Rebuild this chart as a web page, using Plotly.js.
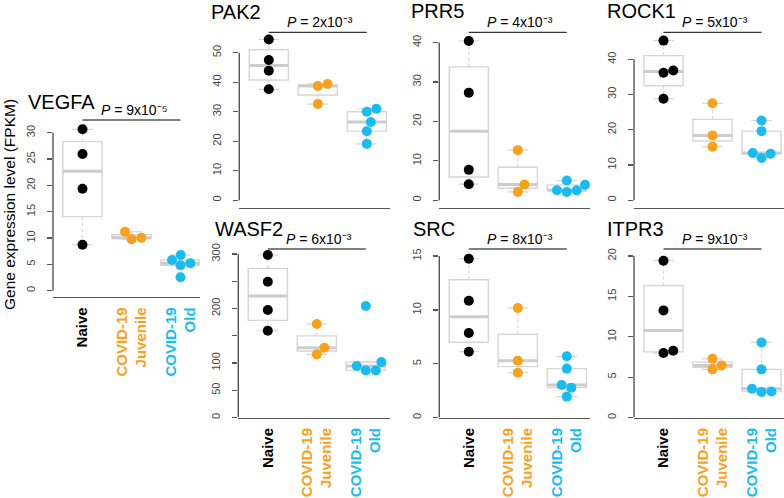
<!DOCTYPE html>
<html><head><meta charset="utf-8">
<script src="https://cdn.plot.ly/plotly-3.0.1.min.js"></script>
<style>html,body{margin:0;padding:0;background:#fff}#chart{width:784px;height:498px}</style>
</head><body><div id="chart"></div>
<script>
// ---------------- DATA ----------------
const groups = ['Naive', 'COVID-19 Juvenile', 'COVID-19 Old'];
const groupTickText = ['Naive', 'COVID-19<br>Juvenile', 'COVID-19<br>Old'];
const genes = ['VEGFA', 'PAK2', 'PRR5', 'ROCK1', 'WASF2', 'SRC', 'ITPR3'];
const pValues = ['9x10\u207B\u2075', '2x10\u207B\u00B3', '4x10\u207B\u00B3', '5x10\u207B\u00B3',
                 '6x10\u207B\u00B3', '8x10\u207B\u00B3', '9x10\u207B\u00B3'];

const vegfaNaive = [30.64, 25.95, 19.37, 8.74];
const vegfaJuvenile = [11.2, 9.76, 10.06];
const vegfaOld = [5.83, 6.78, 4.82, 5.2, 2.54];

const pak2Naive = [54.5, 47.5, 43.9, 37.6];
const pak2Juvenile = [38.7, 39.4, 32.6];
const pak2Old = [30.0, 31.0, 26.5, 23.4, 19.1];

const prr5Naive = [40.4, 27.3, 7.7, 4.06];
const prr5Juvenile = [12.7, 4.0, 2.1];
const prr5Old = [3.9, 5.0, 2.54, 2.08, 2.5];

const rock1Naive = [45.3, 36.2, 36.8, 28.8];
const rock1Juvenile = [27.5, 18.4, 15.2];
const rock1Old = [22.6, 19.6, 13.4, 13.2, 12.0];

const wasf2Naive = [298.2, 249.2, 197.2, 159.3];
const wasf2Juvenile = [171.6, 128.1, 116.0];
const wasf2Old = [204.6, 94.5, 86.6, 86.6, 101.8];

const srcNaive = [14.75, 10.85, 7.86, 6.12];
const srcJuvenile = [10.18, 5.29, 4.17];
const srcOld = [5.69, 4.55, 3.03, 2.78, 1.95];

const itpr3Naive = [19.42, 13.27, 7.99, 8.27];
const itpr3Juvenile = [7.28, 6.46, 5.97];
const itpr3Old = [9.31, 5.97, 3.57, 3.18, 3.22];

const vegfaTicks = [0, 5, 10, 15, 20, 25, 30];
const pak2Ticks = [0, 10, 20, 30, 40, 50];
const prr5Ticks = [0, 10, 20, 30, 40];
const rock1Ticks = [0, 10, 20, 30, 40];
const wasf2Ticks = [0, 50, 100, 200, 300];          // labelled ticks
const wasf2MinorTicks = [150, 250];                 // ticks whose labels are dropped
const srcTicks = [0, 5, 10, 15];
const itpr3Ticks = [0, 5, 10, 15, 20];

const geneData = [
  [vegfaNaive, vegfaJuvenile, vegfaOld],
  [pak2Naive, pak2Juvenile, pak2Old],
  [prr5Naive, prr5Juvenile, prr5Old],
  [rock1Naive, rock1Juvenile, rock1Old],
  [wasf2Naive, wasf2Juvenile, wasf2Old],
  [srcNaive, srcJuvenile, srcOld],
  [itpr3Naive, itpr3Juvenile, itpr3Old]
];
const geneTicks = [vegfaTicks, pak2Ticks, prr5Ticks, rock1Ticks, wasf2Ticks, srcTicks, itpr3Ticks];
const geneMinorTicks = [null, null, null, null, wasf2MinorTicks, null, null];

// ---------------- STYLE / LAYOUT ----------------
const W = 784, H = 498;
const groupColors = ['#000000', '#F9A11B', '#19BCEF'];
const FONT = 'Liberation Sans, Arial, Helvetica, sans-serif';
const SPACING_PX = 49, FIRST_PX = 29.5, DOT = 10;
const BOX_W = 0.8, CAP_W = 0.42;
const BOX_LINE = '#d6d6d6', MEDIAN_LINE = '#cccccc';
// pixel geometry of each panel
const panelGeom = [
  {ax: 53,    xr: 200, zero: 290.7, ppu: 5.267,  bottom: 297,   top: 122, pline: 120,  tx: 26, ty: 101.7, showX: true},
  {ax: 239.3, xr: 390, zero: 200.2, ppu: 2.95,   bottom: 208,   top: 36,  pline: 32.3, tx: 209, ty: 12.5, showX: false},
  {ax: 439.3, xr: 590, zero: 200.2, ppu: 3.94,   bottom: 208,   top: 36,  pline: 32.3, tx: 409, ty: 11, showX: false},
  {ax: 634,   xr: 784, zero: 200.2, ppu: 3.523,  bottom: 208,   top: 36,  pline: 32.3, tx: 605, ty: 11, showX: false},
  {ax: 238.3, xr: 390, zero: 417.6, ppu: 0.5453, bottom: 417.6, top: 252, pline: 249,  tx: 212.5, ty: 229.3, showX: true},
  {ax: 439.3, xr: 590, zero: 417.6, ppu: 10.77,  bottom: 417.6, top: 252, pline: 249,  tx: 411, ty: 229.3, showX: true},
  {ax: 634,   xr: 784, zero: 417.6, ppu: 8.08,   bottom: 417.6, top: 252, pline: 249,  tx: 605, ty: 228.7, showX: true}
];

function sortedCopy(a) { return a.slice().sort((p, q) => p - q); }
function median(a) {
  const s = sortedCopy(a), n = s.length;
  return n % 2 ? s[(n - 1) / 2] : (s[n / 2 - 1] + s[n / 2]) / 2;
}
// Tukey five-number summary (R boxplot): hinges, whisker ends within 1.5 IQR
function tukey(a) {
  const s = sortedCopy(a), n = s.length;
  const q1 = median(s.slice(0, Math.ceil(n / 2)));
  const q3 = median(s.slice(Math.floor(n / 2)));
  const iqr = q3 - q1;
  const inside = s.filter(v => v >= q1 - 1.5 * iqr && v <= q3 + 1.5 * iqr);
  return {q1: q1, med: median(s), q3: q3, lo: Math.min(q1, inside[0]), hi: Math.max(q3, inside[inside.length - 1])};
}
// beeswarm ("swarm") horizontal offsets in pixels
function swarmOffsets(vals, ppu, d) {
  const idx = vals.map((v, i) => i).sort((a, b) => vals[a] - vals[b]);
  const placed = [];
  const out = new Array(vals.length).fill(0);
  idx.forEach(i => {
    const y = vals[i] * ppu;
    const intervals = [];
    placed.forEach(p => {
      const dy = Math.abs(p.y - y);
      if (dy < d) {
        const dx = Math.sqrt(d * d - dy * dy);
        intervals.push([p.x - dx, p.x + dx]);
      }
    });
    const cands = [0];
    intervals.forEach(iv => { cands.push(iv[0], iv[1]); });
    const ok = cands.filter(c => intervals.every(iv => !(c > iv[0] + 1e-9 && c < iv[1] - 1e-9)));
    ok.sort((a, b) => (Math.abs(a) - Math.abs(b)) || (b - a));
    const x = ok[0];
    placed.push({x: x, y: y});
    out[i] = x;
  });
  return out;
}

const traces = [];
const layout = {
  width: W, height: H,
  margin: {l: 0, r: 0, t: 0, b: 0},
  paper_bgcolor: '#ffffff', plot_bgcolor: 'rgba(0,0,0,0)',
  showlegend: false,
  font: {family: FONT, color: '#000'},
  shapes: [], annotations: []
};

const tickTextHtml = groupTickText.map((t, k) =>
  t.split('<br>').map(line => '<span style="color:' + groupColors[k] + '">' + line + '</span>').join('<br>'));

genes.forEach((gene, gi) => {
  const g = panelGeom[gi];
  const sfx = gi === 0 ? '' : String(gi + 1);
  const xa = 'x' + sfx, ya = 'y' + sfx;
  const xmin = 1 - FIRST_PX / SPACING_PX;
  const xmax = 1 + (g.xr - g.ax - FIRST_PX) / SPACING_PX;
  const ymin = -(g.bottom - g.zero) / g.ppu;
  const ymax = (g.zero - g.top) / g.ppu;
  const ticks = geneTicks[gi];
  const minor = geneMinorTicks[gi];
  const allTicks = minor ? ticks.concat(minor) : ticks;
  const tickTop = Math.max.apply(null, allTicks), tickBottom = Math.min.apply(null, allTicks);

  layout['xaxis' + sfx] = {
    domain: [g.ax / W, g.xr / W], range: [xmin, xmax], anchor: ya,
    showline: true, linecolor: '#555555', linewidth: 1.4,
    showgrid: false, zeroline: false, ticks: '',
    showticklabels: g.showX,
    tickmode: 'array', tickvals: [1, 2, 3], ticktext: tickTextHtml,
    tickangle: -90, tickfont: {family: FONT, size: 15, color: '#000', weight: 'bold'}, ticklabelstandoff: 3
  };
  const yax = {
    domain: [1 - g.bottom / H, 1 - g.top / H], range: [ymin, ymax], anchor: xa,
    showline: false, showgrid: false, zeroline: false,
    ticks: 'outside', ticklen: 5, tickwidth: 1.3, tickcolor: '#555555',
    tickmode: 'array', tickvals: ticks, ticktext: ticks.map(String),
    tickangle: -90, tickfont: {family: FONT, size: 11, color: '#444444'}, ticklabelstandoff: 8
  };
  if (minor) {
    yax.minor = {tickmode: 'array', tickvals: minor, ticks: 'outside', ticklen: 5, tickwidth: 1.3,
                 tickcolor: '#555555', showgrid: false};
  }
  layout['yaxis' + sfx] = yax;
  // y axis line from first to last tick (R style)
  layout.shapes.push({type: 'line', xref: xa + ' domain', yref: ya, x0: 0, x1: 0,
    y0: tickBottom, y1: tickTop, line: {color: '#555555', width: 1.4}});
  // significance bar from first to last group
  layout.shapes.push({type: 'line', xref: xa, yref: 'paper', x0: 1, x1: 3,
    y0: 1 - g.pline / H, y1: 1 - g.pline / H, line: {color: '#000', width: 1}});
  layout.annotations.push({xref: xa, yref: 'paper', x: 2, y: 1 - g.pline / H, yanchor: 'bottom',
    xanchor: 'center', xshift: 2, showarrow: false,
    text: '<i>P</i> = ' + pValues[gi], font: {family: FONT, size: 14, color: '#000'}});
  // gene title
  layout.annotations.push({xref: 'paper', yref: 'paper', x: g.tx / W, y: 1 - g.ty / H,
    xanchor: 'left', yanchor: 'middle', showarrow: false, text: gene,
    font: {family: FONT, size: 20, color: '#000'}});

  geneData[gi].forEach((vals, k) => {
    const pos = k + 1;
    const st = tukey(vals);
    // dashed whiskers (R lty = 2)
    traces.push({
      type: 'scatter', mode: 'lines', xaxis: xa, yaxis: ya, hoverinfo: 'skip',
      x: [pos, pos, null, pos, pos], y: [st.q3, st.hi, null, st.q1, st.lo],
      line: {color: BOX_LINE, width: 1.2, dash: '3px,3px'}, name: groups[k] + ' whisker'
    });
    // whisker caps (staples)
    traces.push({
      type: 'scatter', mode: 'lines', xaxis: xa, yaxis: ya, hoverinfo: 'skip',
      x: [pos - CAP_W / 2, pos + CAP_W / 2, null, pos - CAP_W / 2, pos + CAP_W / 2],
      y: [st.hi, st.hi, null, st.lo, st.lo],
      line: {color: BOX_LINE, width: 1.2}, name: groups[k] + ' cap'
    });
    // box (hinges + median) from the library's box trace
    traces.push({
      type: 'box', xaxis: xa, yaxis: ya, x: [pos],
      q1: [st.q1], median: [st.med], q3: [st.q3], lowerfence: [st.q1], upperfence: [st.q3],
      width: BOX_W, whiskerwidth: 0, boxpoints: false,
      line: {color: BOX_LINE, width: 1.4}, fillcolor: 'rgba(255,255,255,0)',
      hoverinfo: 'skip', name: groups[k]
    });
    // thick median bar
    traces.push({
      type: 'scatter', mode: 'lines', xaxis: xa, yaxis: ya,
      x: [pos - BOX_W / 2, pos + BOX_W / 2], y: [st.med, st.med], line: {color: MEDIAN_LINE, width: 3},
      hoverinfo: 'skip', name: groups[k] + ' median'
    });
    const offs = swarmOffsets(vals, g.ppu, DOT);
    traces.push({
      type: 'scatter', mode: 'markers', xaxis: xa, yaxis: ya, cliponaxis: false,
      x: offs.map(o => pos + o / SPACING_PX), y: vals,
      marker: {color: groupColors[k], size: DOT, line: {width: 0}}, name: groups[k]
    });
  });
});

// shared y-axis title
layout.annotations.push({xref: 'paper', yref: 'paper', x: 9 / W, y: 1 - 205 / H,
  xanchor: 'center', yanchor: 'middle', textangle: -90, showarrow: false,
  text: 'Gene expression level (FPKM)', font: {family: FONT, size: 15.5, color: '#000'}});

Plotly.newPlot('chart', traces, layout, {displayModeBar: false, staticPlot: true});
</script>
</body></html>
